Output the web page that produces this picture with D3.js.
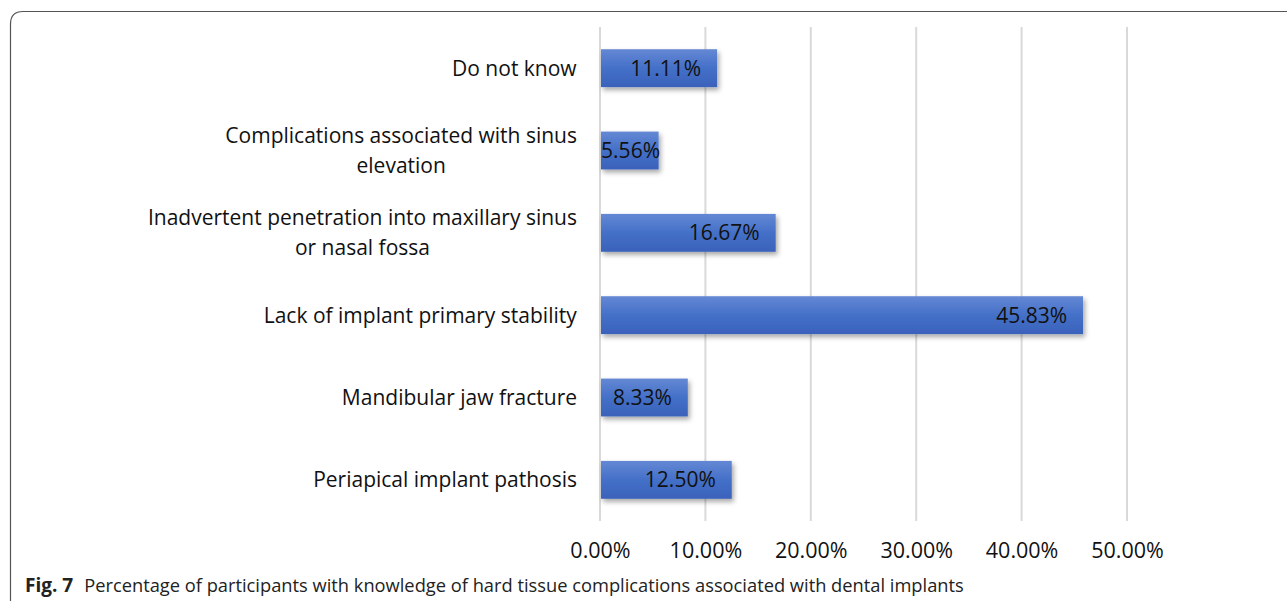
<!DOCTYPE html>
<html>
<head>
<meta charset="utf-8">
<script src="https://cdn.jsdelivr.net/npm/d3@7"></script>
<style>
  body { margin: 0; background: #fff; }
</style>
</head>
<body>
<script>
// categories top to bottom, values as fractions
var categories = [
  "Do not know",
  "Complications associated with sinus|elevation",
  "Inadvertent penetration into maxillary sinus|or nasal fossa",
  "Lack of implant primary stability",
  "Mandibular jaw fracture",
  "Periapical implant pathosis"
];
var values = [0.1111, 0.0556, 0.1667, 0.4583, 0.0833, 0.125];
var ticks = [0, 0.1, 0.2, 0.3, 0.4, 0.5];

var width = 1287;
var height = 601;
var font = "'Open Sans', sans-serif";

var svg = d3.select("body")
  .append("svg")
  .attr("width", width)
  .attr("height", height);

var defs = svg.append("defs");
var grad = defs.append("linearGradient")
  .attr("id", "barGrad")
  .attr("x1", 0).attr("y1", 0).attr("x2", 0).attr("y2", 1);
grad.append("stop").attr("offset", "0%").attr("stop-color", "#6488d4");
grad.append("stop").attr("offset", "50%").attr("stop-color", "#4470c8");
grad.append("stop").attr("offset", "100%").attr("stop-color", "#3a62bb");

var shadow = defs.append("filter")
  .attr("id", "shadow")
  .attr("x", "-10%").attr("y", "-20%")
  .attr("width", "130%").attr("height", "170%");
shadow.append("feDropShadow")
  .attr("dx", 2).attr("dy", 3)
  .attr("stdDeviation", 2.5)
  .attr("flood-color", "#000")
  .attr("flood-opacity", 0.35);

// frame with rounded top-left corner
svg.append("path")
  .attr("d", "M10.5,601 L10.5,24 Q10.5,11.5 23,11.5 L1287,11.5")
  .attr("fill", "none")
  .attr("stroke", "#555")
  .attr("stroke-width", 1.2);

var x = d3.scaleLinear().domain([0, 0.5]).range([600, 1127]);
var y = d3.scaleBand()
  .domain(categories)
  .range([27, 521])
  .paddingInner(0.54)
  .paddingOuter(0.27);

// gridlines
svg.append("g")
  .selectAll("line")
  .data(ticks)
  .enter()
  .append("line")
  .attr("x1", function (d) { return x(d); })
  .attr("x2", function (d) { return x(d); })
  .attr("y1", 27)
  .attr("y2", 521)
  .attr("stroke", "#d9d9d9")
  .attr("stroke-width", 2);

// x axis labels
var xAxis = d3.axisBottom(x)
  .tickValues(ticks)
  .tickSize(0)
  .tickPadding(0)
  .tickFormat(function (d) { return d3.format(".2f")(d * 100) + "%"; });

var gx = svg.append("g")
  .attr("transform", "translate(0,545)")
  .call(xAxis);
gx.select(".domain").remove();
gx.selectAll("text")
  .attr("font-family", font)
  .attr("font-size", "21.5px")
  .attr("fill", "#111")
  .attr("dy", "0.6em");

// bars
svg.append("g")
  .selectAll("rect")
  .data(values)
  .enter()
  .append("rect")
  .attr("x", x(0) + 1)
  .attr("y", function (d, i) { return y(categories[i]); })
  .attr("width", function (d) { return x(d) - x(0) - 1; })
  .attr("height", y.bandwidth())
  .attr("fill", "url(#barGrad)")
  .attr("filter", "url(#shadow)");

// value labels inside bar ends
svg.append("g")
  .selectAll("text")
  .data(values)
  .enter()
  .append("text")
  .attr("x", function (d) { return Math.max(x(d) - 16, x(0) + 60); })
  .attr("y", function (d, i) { return y(categories[i]) + y.bandwidth() / 2; })
  .attr("dy", "0.35em")
  .attr("text-anchor", "end")
  .attr("font-family", font)
  .attr("font-size", "21px")
  .attr("fill", "#111")
  .text(function (d) { return (d * 100).toFixed(2) + "%"; });

// category labels, wrapped lines centred in a right-aligned block
var labelRight = 577;
var lineH = 30;
categories.forEach(function (c, i) {
  var lines = c.split("|");
  var cy = y(c) + y.bandwidth() / 2;
  var t = svg.append("text")
    .attr("font-family", font)
    .attr("font-size", "21px")
    .attr("fill", "#111")
    .attr("text-anchor", "middle");
  lines.forEach(function (l, k) {
    t.append("tspan")
      .attr("x", 0)
      .attr("y", cy + (k - (lines.length - 1) / 2) * lineH)
      .attr("dy", "0.35em")
      .text(l);
  });
  var w = t.node().getBBox().width;
  t.attr("transform", "translate(" + (labelRight - w / 2) + ",0)");
});

// caption
var cap = svg.append("text")
  .attr("x", 25)
  .attr("y", 592)
  .attr("font-family", font)
  .attr("font-size", "18.3px")
  .attr("fill", "#222");
cap.append("tspan").attr("font-weight", "bold").attr("font-size", "19px").text("Fig. 7");
cap.append("tspan").attr("dx", 11).text("Percentage of participants with knowledge of hard tissue complications associated with dental implants");
</script>
</body>
</html>
